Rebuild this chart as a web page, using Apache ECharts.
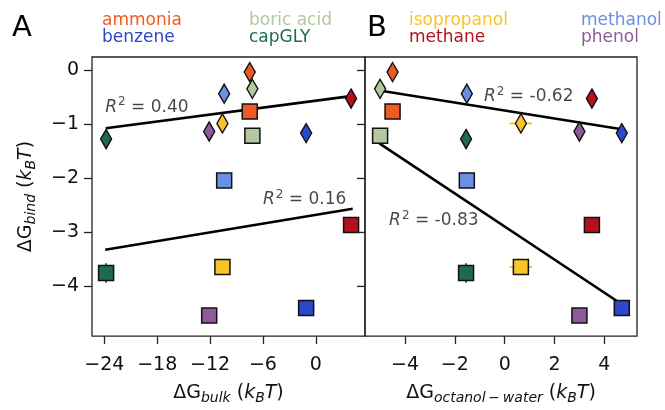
<!DOCTYPE html>
<html>
<head>
<meta charset="utf-8">
<script src="https://cdn.jsdelivr.net/npm/echarts@6/dist/echarts.min.js"></script>
<style>
html, body { margin: 0; padding: 0; background: #fff; }
#main { width: 665px; height: 410px; }
</style>
</head>
<body>
<div id="main"></div>
<script>
// molecules, in legend order
var molecules = ['ammonia', 'benzene', 'boric acid', 'capGLY', 'isopropanol', 'methane', 'methanol', 'phenol'];
var colors = ['#f15a22', '#2a48c9', '#b3c8a1', '#1f6c4c', '#f8c42a', '#b3121b', '#6b8fe3', '#8e5a9b'];

// x values: dG bulk (panel A) and dG octanol-water (panel B)
var bulkX = [-7.5, -1.1, -7.2, -23.8, -10.6, 4.0, -10.4, -12.1];
var octX = [-4.5, 4.7, -5.0, -1.55, 0.65, 3.5, -1.52, 3.0];
var octErr = [0, 0, 0, 0, 0.45, 0, 0, 0];

// y values: dG bind, diamonds and squares
var bindDiamond = [-0.03, -1.16, -0.34, -1.27, -0.98, -0.52, -0.43, -1.13];
var bindSquare = [-0.76, -4.40, -1.21, -3.75, -3.64, -2.86, -2.04, -4.54];
var bindErr = [0, 0, 0, 0.18, 0, 0, 0, 0];

// tick labels
var xTicksBulk = [-24, -18, -12, -6, 0];
var xTicksOct = [-4, -2, 0, 2, 4];
var yTicks = [0, -1, -2, -3, -4];

// fit lines (end points) and their R^2 texts
var fitBulkDiamond = [[-23.84, -1.07], [4.18, -0.47]];
var fitBulkSquare = [[-23.9, -3.32], [4.18, -2.56]];
var fitOctDiamond = [[-5.03, -0.37], [4.7, -1.09]];
var fitOctSquare = [[-5.03, -1.35], [4.67, -4.32]];
var r2Bulk = [{ pos: [-23.9, -0.68], text: '0.40' }, { pos: [-6.0, -2.40], text: '0.16' }];
var r2Oct = [{ pos: [-0.83, -0.49], text: '-0.62' }, { pos: [-4.64, -2.78], text: '-0.83' }];

var FONT = 'DejaVu Sans';
var diamondPath = 'path://M5,0 L10,9.5 L5,19 L0,9.5 Z';

var myChart = echarts.init(document.getElementById('main'));

function minus(v) {
	return String(v).replace('-', '\u2212');
}

var nameRich = {
	t: { fontSize: 19, lineHeight: 24, fontFamily: FONT, color: '#111' },
	i: { fontSize: 19, lineHeight: 24, fontFamily: FONT, fontStyle: 'italic', color: '#111' },
	s: { fontSize: 14, lineHeight: 14, fontFamily: FONT, fontStyle: 'italic', color: '#111', padding: [12, 0, 0, 0], verticalAlign: 'bottom' }
};

function xAxisOf(idx, min, max, ticks, sub) {
	return {
		type: 'value', gridIndex: idx, min: min, max: max,
		splitLine: { show: false },
		axisLine: { show: false, onZero: false },
		axisTick: { show: true, length: 8, lineStyle: { color: '#222', width: 1.3 }, customValues: ticks },
		axisLabel: { show: true, margin: 19, fontSize: 19, fontFamily: FONT, color: '#111', customValues: ticks, formatter: minus },
		name: '{t|\u0394G}{s|' + sub + '}{t| (}{i|k}{s|B}{i|T}{t|)}',
		nameLocation: 'middle', nameGap: 43,
		nameTextStyle: { rich: nameRich }
	};
}

function yAxisOf(idx, withLabels) {
	var ax = {
		type: 'value', gridIndex: idx, min: -4.92, max: 0.25,
		splitLine: { show: false },
		axisLine: { show: false, onZero: false },
		axisTick: { show: withLabels, length: 8, lineStyle: { color: '#222', width: 1.3 }, customValues: yTicks },
		axisLabel: { show: withLabels, margin: 13, fontSize: 19, fontFamily: FONT, color: '#111', customValues: yTicks, formatter: minus }
	};
	if (withLabels) {
		ax.name = '{t|\u0394G}{s|bind}{t| (}{i|k}{s|B}{i|T}{t|)}';
		ax.nameLocation = 'middle';
		ax.nameGap = 54;
		ax.nameRotate = 90;
		ax.nameTextStyle = { rich: nameRich };
	}
	return ax;
}

var series = [];

function addPanel(idx, xs, xErr, fits, r2s) {
	// fit lines
	for (var f = 0; f < fits.length; f++) {
		series.push({
			type: 'line', xAxisIndex: idx, yAxisIndex: idx, data: fits[f],
			symbol: 'none', lineStyle: { color: '#000', width: 2.6 }, z: 2, silent: true
		});
	}
	// error bars
	var errData = [];
	for (var i = 0; i < molecules.length; i++) {
		if (xErr[i] || bindErr[i]) {
			errData.push({ value: [xs[i], bindDiamond[i], xErr[i], bindErr[i]], c: colors[i] });
			errData.push({ value: [xs[i], bindSquare[i], xErr[i], bindErr[i]], c: colors[i] });
		}
	}
	series.push({
		type: 'custom', xAxisIndex: idx, yAxisIndex: idx, z: 3, silent: true,
		data: errData,
		renderItem: function (params, api) {
			var x = api.value(0), y = api.value(1), ex = api.value(2), ey = api.value(3);
			var c = errData[params.dataIndex].c;
			var kids = [];
			if (ex) {
				var a = api.coord([x - ex, y]), b = api.coord([x + ex, y]);
				kids.push({ type: 'line', shape: { x1: a[0], y1: a[1], x2: b[0], y2: b[1] }, style: { stroke: c, lineWidth: 2 } });
			}
			if (ey) {
				var p = api.coord([x, y - ey]), q = api.coord([x, y + ey]);
				kids.push({ type: 'line', shape: { x1: p[0], y1: p[1], x2: q[0], y2: q[1] }, style: { stroke: c, lineWidth: 2 } });
			}
			return { type: 'group', children: kids };
		}
	});
	// markers
	for (var m = 0; m < molecules.length; m++) {
		series.push({
			name: molecules[m], type: 'scatter', xAxisIndex: idx, yAxisIndex: idx, z: 4,
			itemStyle: { color: colors[m], borderColor: '#111', borderWidth: 1.5, opacity: 1 },
			data: [
				{ value: [xs[m], bindSquare[m]], symbol: 'rect', symbolSize: 15 },
				{ value: [xs[m], bindDiamond[m]], symbol: diamondPath, symbolSize: [11, 19] }
			]
		});
	}
	// R^2 labels
	series.push({
		type: 'scatter', xAxisIndex: idx, yAxisIndex: idx, z: 5, silent: true,
		symbolSize: 0,
		data: r2s.map(function (r) { return { value: r.pos, txt: r.text }; }),
		label: {
			show: true, position: 'right', distance: 0,
			formatter: function (p) { return '{i|R}{s|2}{t| = ' + p.data.txt + '}'; },
			rich: {
				t: { fontSize: 17, lineHeight: 22, fontFamily: FONT, color: '#1a1a1a' },
				i: { fontSize: 17, lineHeight: 22, fontFamily: FONT, fontStyle: 'italic', color: '#1a1a1a' },
				s: { fontSize: 12, lineHeight: 12, fontFamily: FONT, color: '#1a1a1a', verticalAlign: 'top', padding: [0, 0, 0, 1] }
			}
		}
	});
}

addPanel(0, bulkX, [0, 0, 0, 0, 0, 0, 0, 0], [fitBulkDiamond, fitBulkSquare], r2Bulk);
addPanel(1, octX, octErr, [fitOctDiamond, fitOctSquare], r2Oct);

// legend as coloured text, two rows per column
var legendCols = [102, 249, 409, 581];
var graphics = [
	{ type: 'text', x: 12, y: 28, style: { text: 'A', fontSize: 29, fontFamily: FONT, fill: '#000', verticalAlign: 'middle' } },
	{ type: 'text', x: 367, y: 28, style: { text: 'B', fontSize: 29, fontFamily: FONT, fill: '#000', verticalAlign: 'middle' } }
];
for (var k = 0; k < molecules.length; k++) {
	graphics.push({
		type: 'text', x: legendCols[Math.floor(k / 2)], y: k % 2 === 0 ? 21 : 38,
		style: { text: molecules[k], fontSize: 17, fontFamily: FONT, fill: colors[k], verticalAlign: 'middle' }
	});
}

option = {
	animation: false,
	backgroundColor: '#fff',
	grid: [
		{ left: 92, top: 57, width: 273, height: 285, show: true, borderColor: '#222', borderWidth: 1.3, backgroundColor: 'transparent' },
		{ left: 365, top: 57, width: 272, height: 285, show: true, borderColor: '#222', borderWidth: 1.3, backgroundColor: 'transparent' }
	],
	xAxis: [
		xAxisOf(0, -25.4, 5.58, xTicksBulk, 'bulk'),
		xAxisOf(1, -5.606, 5.31, xTicksOct, 'octanol\u2009\u2212\u2009water')
	],
	yAxis: [yAxisOf(0, true), yAxisOf(1, false)],
	graphic: graphics,
	series: series
};

myChart.setOption(option);

// panel B's y ticks: on its left edge, pointing out into panel A
var edge = myChart.convertToPixel({ xAxisIndex: 1 }, -5.606);
for (var t = 0; t < yTicks.length; t++) {
	var py = myChart.convertToPixel({ yAxisIndex: 1 }, yTicks[t]);
	graphics.push({
		type: 'line', z: 100,
		shape: { x1: edge - 8, y1: py, x2: edge, y2: py },
		style: { stroke: '#222', lineWidth: 1.3 }
	});
}
myChart.setOption({ graphic: graphics });
</script>
</body>
</html>
